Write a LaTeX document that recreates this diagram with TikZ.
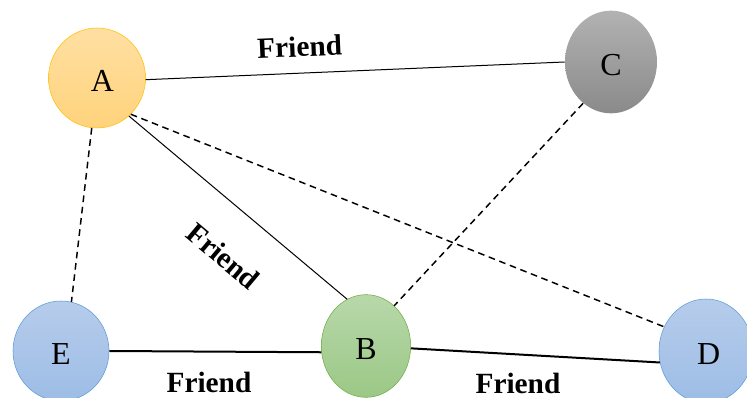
\documentclass[tikz,border=0pt]{standalone}
\usepackage{fontspec}
\setmainfont{Liberation Serif}
\usetikzlibrary{shapes.geometric}

\definecolor{goldline}{HTML}{FFC000}
\definecolor{goldtop}{HTML}{FFDFA2}
\definecolor{goldbot}{HTML}{FFD37C}
\definecolor{greytop}{HTML}{B2B2B2}
\definecolor{greybot}{HTML}{8A8A8A}
\definecolor{greenline}{HTML}{70AD47}
\definecolor{greentop}{HTML}{B8D8AA}
\definecolor{greenbot}{HTML}{9BC886}
\definecolor{blueline}{HTML}{5B9BD5}
\definecolor{bluetop}{HTML}{B6CCEB}
\definecolor{bluebot}{HTML}{9DBDE6}

\tikzset{
  person/.style={ellipse, inner sep=0pt, text height=21pt, text depth=0pt,
                 font=\fontsize{24}{28}\selectfont},
  friend/.style={font=\bfseries\fontsize{22}{26}\selectfont},
  tie/.style={line width=0.75pt},
  strongtie/.style={line width=1.5pt},
  weaktie/.style={line width=1.1pt, dash pattern=on 5pt off 3.5pt},
}

\begin{document}
\begin{tikzpicture}[x=0.75pt,y=-0.75pt]
  \useasboundingbox (0,0) rectangle (747,398);
  \clip (0,0) rectangle (747,398);

  \node[person, minimum width=72.75pt, minimum height=75pt, draw=goldline,
        top color=goldtop, bottom color=goldbot] (A) at (97,78) {\hspace*{8pt}A};
  \node[person, minimum width=69pt, minimum height=77pt,
        top color=greytop, bottom color=greybot] (C) at (611,62) {C};
  \node[person, minimum width=67pt, minimum height=77pt, draw=greenline,
        top color=greentop, bottom color=greenbot] (B) at (366,346) {B};
  \node[person, minimum width=72pt, minimum height=75pt, draw=blueline,
        top color=bluetop, bottom color=bluebot] (E) at (61,351) {E};
  \node[person, minimum width=70.5pt, minimum height=78pt, draw=blueline,
        top color=bluetop, bottom color=bluebot] (D) at (706,351) {\hspace*{4pt}D};

  \begin{scope}[-]
    \draw[tie] (A.-2) -- node[friend, sloped, above=8.5pt, pos=0.37] {Friend} (C.180);
    \draw[tie] (A.-50) -- node[friend, sloped, below=23.5pt, pos=0.57] {Friend} (B.112);
    \draw[strongtie] (E.east) -- node[friend, below=11.5pt, pos=0.47] {Friend} (B.188);
    \draw[strongtie] (B.-3) -- node[friend, below=10pt, pos=0.43] {Friend} (D.194);
    \draw[weaktie] (A.-96) -- (E.78);
    \draw[weaktie] (A.-47) -- (D.150);
    \draw[weaktie] (C.-124) -- (B.55);
  \end{scope}
\end{tikzpicture}
\end{document}
